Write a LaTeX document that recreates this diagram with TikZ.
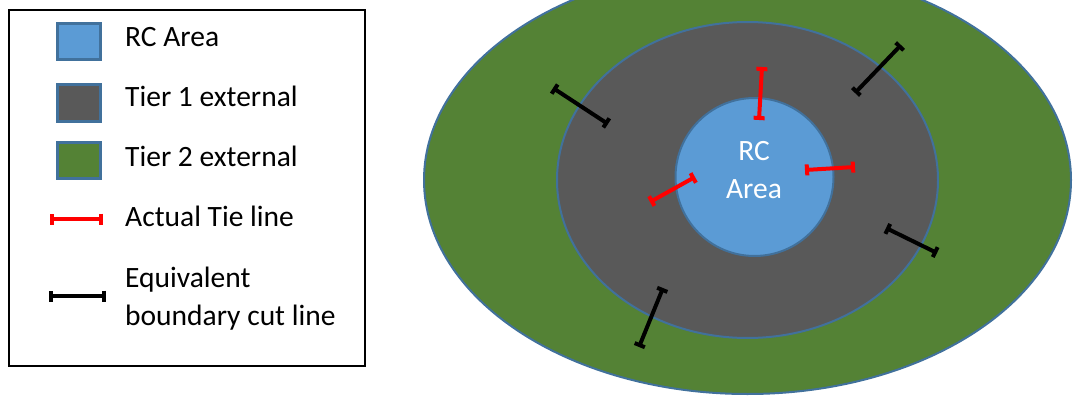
\documentclass[tikz,border=0pt]{standalone}
\usepackage{fontspec}
\setmainfont{Carlito}
\usepackage{xcolor}
\usepackage{tikz}
\usetikzlibrary{arrows.meta}
\definecolor{rcblue}{HTML}{5B9BD5}
\definecolor{tieronegray}{HTML}{595959}
\definecolor{tiertwogreen}{HTML}{548235}
\definecolor{edgeblue}{HTML}{41719C}
\tikzstyle{area} = [draw=edgeblue, line width=2pt]
\tikzstyle{swatch} = [area, line width=3pt,
	minimum width = 43pt,
	minimum height = 36pt]
\tikzstyle{legtext} = [anchor=base west, inner sep=0pt,
	font=\fontsize{29.5}{38}\selectfont]
\tikzstyle{tie} = [{Bar[width=11pt, length=3pt]}-{Bar[width=11pt, length=3pt]}, line width=4pt]
\newcommand{\drawtie}[4]{\coordinate (#1a) at #3;
	\coordinate (#1b) at #4;
	\draw [tie, #2] (#1a) -- (#1b)}

\begin{document}
\begin{tikzpicture}[x=1pt, y=-1pt]
			\useasboundingbox (0,0) rectangle (1074,396);
			\node (legend) [draw, line width=1.2pt, minimum width=356pt, minimum height=356pt, inner sep=0pt] at (187,188) {};
			\node (rcsq) [swatch, fill=rcblue] at (79,42) {};
			\node (tonesq) [swatch, fill=tieronegray] at (79,103) {};
			\node (ttwosq) [swatch, fill=tiertwogreen] at (79,160.5) {};
			\drawtie{actleg}{red}{(50,219)}{(103,219)};
			\drawtie{eqleg}{black}{(49,296)}{(106,296)};
			\node (rctxt) [legtext] at (125,46.7) {RC Area};
			\node (tonetxt) [legtext] at (125,106.7) {Tier 1 external};
			\node (ttwotxt) [legtext] at (125,166.7) {Tier 2 external};
			\node (acttxt) [legtext] at (125,226.7) {Actual Tie line};
			\node (eqtxt) [legtext] at (125,287.3) {Equivalent};
			\node (eqtxtb) [legtext] at (125,325) {boundary cut line};
			
			\draw [area, fill=tiertwogreen] (747.5,180) ellipse [x radius=323.5pt, y radius=214pt];
			\draw [area, fill=tieronegray] (747.5,180) ellipse [x radius=190.5pt, y radius=158pt];
			\node (rc) [area, circle, fill=rcblue, minimum size=158pt, inner sep=0pt] at (754.5,177) {};
			\node (rclabel) [white, align=center, font=\fontsize{29.5}{37.4}\selectfont] at (754,170) {RC\\Area};
			
			\drawtie{tna}{red}{(762,67)}{(759,120)};
			\drawtie{tnb}{red}{(805,170)}{(855,167)};
			\drawtie{tnc}{red}{(695,177)}{(650,202)};
			\drawtie{cta}{black}{(553,88)}{(608,124)};
			\drawtie{ctb}{black}{(663,288)}{(639,347)};
			\drawtie{ctc}{black}{(901,45)}{(855,93)};
			\drawtie{ctd}{black}{(886,228)}{(937,253)};
		\end{tikzpicture}
\end{document}
